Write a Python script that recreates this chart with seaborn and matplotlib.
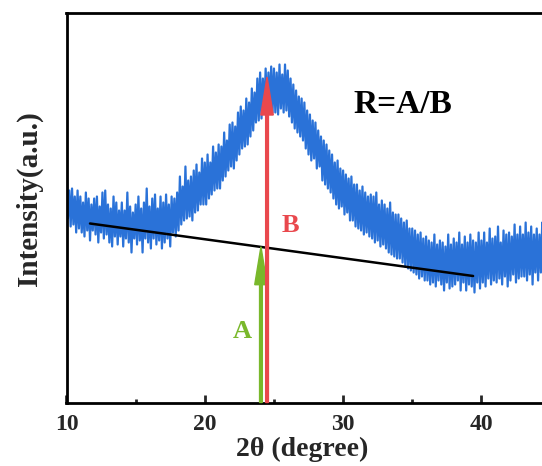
import numpy as np
import pandas as pd
import matplotlib
matplotlib.use("Agg")
import matplotlib.pyplot as plt
import seaborn as sns

# ---- data ----
two_theta_start = 10.0
two_theta_step = 0.1
intensity = [
    248, 184, 212, 176, 214, 178, 206, 170, 212, 174,
    206, 170, 200, 166, 210, 172, 204, 162, 198, 172,
    204, 168, 206, 160, 196, 170, 210, 164, 212, 168,
    198, 160, 194, 156, 206, 166, 200, 158, 192, 166,
    200, 156, 192, 164, 210, 160, 196, 150, 190, 164,
    198, 158, 206, 162, 194, 150, 200, 164, 214, 160,
    196, 154, 204, 164, 208, 158, 194, 162, 206, 154,
    200, 160, 208, 164, 198, 156, 206, 170, 204, 166,
    210, 172, 226, 178, 216, 182, 236, 184, 222, 186,
    226, 182, 232, 190, 238, 192, 230, 198, 244, 198,
    240, 198, 248, 204, 240, 208, 256, 212, 250, 214,
    258, 214, 256, 222, 270, 226, 262, 232, 278, 236,
    280, 234, 276, 242, 290, 248, 296, 254, 292, 256,
    304, 258, 300, 266, 314, 272, 310, 280, 324, 282,
    330, 284, 324, 290, 334, 292, 330, 296, 336, 290,
    334, 290, 330, 288, 338, 294, 328, 290, 338, 292,
    332, 286, 324, 280, 318, 274, 312, 270, 306, 266,
    304, 262, 300, 254, 292, 248, 288, 242, 282, 244,
    280, 234, 272, 236, 266, 222, 262, 218, 258, 214,
    252, 210, 248, 204, 240, 198, 242, 194, 234, 196,
    232, 188, 228, 190, 224, 182, 226, 182, 218, 176,
    218, 174, 212, 172, 216, 168, 210, 170, 206, 166,
    208, 164, 206, 160, 210, 162, 198, 156, 202, 158,
    198, 154, 194, 150, 200, 148, 190, 146, 188, 144,
    188, 144, 184, 140, 180, 136, 182, 134, 174, 132,
    174, 130, 172, 128, 168, 124, 170, 126, 164, 122,
    166, 122, 162, 118, 160, 120, 168, 116, 158, 122,
    162, 118, 160, 112, 156, 120, 168, 114, 158, 116,
    164, 118, 160, 122, 170, 112, 158, 120, 166, 112,
    160, 118, 168, 116, 162, 110, 160, 120, 170, 114,
    162, 120, 170, 116, 160, 124, 174, 118, 164, 122,
    166, 120, 176, 124, 160, 118, 172, 126, 168, 116,
    170, 122, 166, 128, 178, 120, 168, 124, 176, 126,
    168, 126, 180, 122, 170, 128, 176, 118, 168, 130,
    174, 122, 168, 130, 180, 124, 170, 120, 172, 128,
    166, 122, 174, 126, 168, 120, 176, 128, 170, 124,
    150,
]
baseline_x = [11.7, 39.4]
baseline_y = [179, 126.5]
arrow_x = [24.06, 24.5]        # A (green), B (red)
arrow_top = [155.8, 325.5]
arrow_labels = ["A", "B"]
arrow_label_x = [22.7, 26.2]
arrow_label_y = [71.5, 177.5]
x_ticks = [10, 20, 30, 40]
x_minor = [15, 25, 35]
formula_text = "R=A/B"

two_theta = two_theta_start + two_theta_step * np.arange(len(intensity))
df = pd.DataFrame({"two_theta": two_theta, "intensity": intensity})

# ---- style ----
sns.set_style("ticks")
plt.rcParams["font.family"] = ["Liberation Serif", "DejaVu Serif"]
plt.rcParams["font.weight"] = "bold"

W, H = 542, 466
fig = plt.figure(figsize=(W / 100, H / 100), dpi=100)
left_px, bottom_px, top_px = 66.5, 402.5, 12.7
px_per_unit = 13.83
xmax = 46.0
ax_w_px = (xmax - 10) * px_per_unit
ax = fig.add_axes([left_px / W, (H - bottom_px) / H, ax_w_px / W, (bottom_px - top_px) / H])

blue = "#2a72d8"
red = "#e9484d"
green = "#79b82b"

sns.lineplot(data=df, x="two_theta", y="intensity", ax=ax, color=blue,
             linewidth=1.6, zorder=2)
ax.plot(baseline_x, baseline_y, color="black", linewidth=1.8, zorder=3)

colors = [green, red]
for xa, ya, c in zip(arrow_x, arrow_top, colors):
    ax.arrow(xa, 0, 0, ya, width=0.2, head_width=0.9, head_length=38,
             length_includes_head=True, color=c, zorder=4, clip_on=False)
for lab, lx, ly, c in zip(arrow_labels, arrow_label_x, arrow_label_y, colors):
    ax.text(lx, ly, lab, color=c, fontsize=19, fontweight="bold",
            ha="center", va="center")
ax.text(34.3, 298, formula_text, color="black", fontsize=24, fontweight="bold",
        ha="center", va="center")

ax.set_xlim(10, xmax)
ax.set_ylim(0, bottom_px - top_px)
ax.set_xticks(x_ticks)
ax.set_xticklabels([str(t) for t in x_ticks])
ax.set_xticks(x_minor, minor=True)
ax.set_yticks([])
ax.tick_params(axis="x", which="major", direction="in", length=6, width=2,
               labelsize=17, pad=8)
ax.tick_params(axis="x", which="minor", direction="in", length=3, width=2)
for lab in ax.get_xticklabels():
    lab.set_fontweight("bold")
for s in ax.spines.values():
    s.set_linewidth(2)
    s.set_color("black")

ax.set_xlabel("2θ (degree)", fontsize=20, fontweight="bold", va="center")
ax.xaxis.set_label_coords((302 - left_px) / ax_w_px, (bottom_px - 449.5) / (bottom_px - top_px))
ax.set_ylabel("Intensity(a.u.)", fontsize=21, fontweight="bold", va="center")
ax.yaxis.set_label_coords((29 - left_px) / ax_w_px, (bottom_px - 199) / (bottom_px - top_px))

fig.savefig("out.png", dpi=100)
